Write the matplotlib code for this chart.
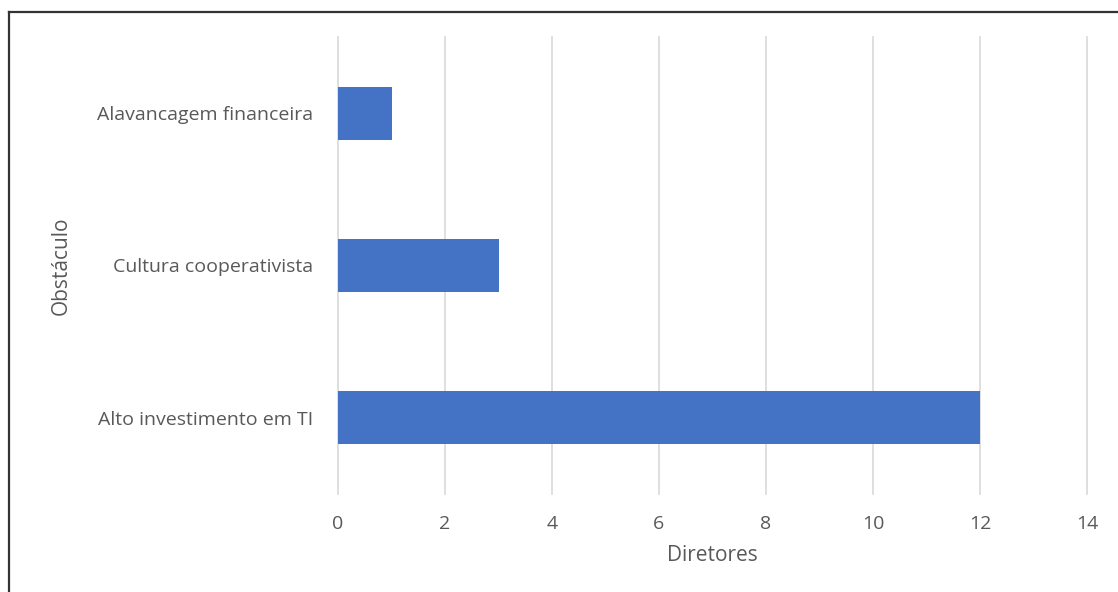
import matplotlib
matplotlib.use("Agg")
import matplotlib.pyplot as plt
from matplotlib.lines import Line2D

categories = ["Alto investimento em TI", "Cultura cooperativista", "Alavancagem financeira"]
values = [12, 3, 1]
xticks = [0, 2, 4, 6, 8, 10, 12, 14]

plt.rcParams['font.family'] = ['Open Sans', 'DejaVu Sans']
gray = "#595959"

W, H = 1118, 592
fig = plt.figure(figsize=(W/100, H/100), dpi=100)
ax = fig.add_axes([338/W, 1-494/H, (1087-338)/W, (494-37)/H])

ax.barh(range(len(categories)), values, height=0.35, color="#4472C4", zorder=3)
ax.set_ylim(-0.5, len(categories)-0.5)
ax.set_xlim(0, 14)
ax.set_xticks(xticks)
ax.set_yticks(range(len(categories)))
ax.set_yticklabels(categories)
ax.grid(axis='x', color="#D9D9D9", linewidth=1.2, zorder=0)
for gl in ax.get_xgridlines():
    gl.set_clip_on(False)
for s in ax.spines.values():
    s.set_visible(False)
ax.tick_params(axis='both', length=0, labelsize=14, labelcolor=gray)
ax.tick_params(axis='x', pad=15)
ax.tick_params(axis='y', pad=18)
ax.set_xlabel("Diretores", fontsize=15, color=gray, labelpad=9)
ax.set_ylabel("Obstáculo", fontsize=15, color=gray, labelpad=18)

# outer border (top and left)
fig.add_artist(Line2D([8.5/W, 8.5/W], [0, 1-11.5/H], color="#333333", linewidth=1.6, transform=fig.transFigure))
fig.add_artist(Line2D([8.5/W, 1], [1-11.5/H, 1-11.5/H], color="#333333", linewidth=1.6, transform=fig.transFigure))

fig.savefig("out.png", dpi=100, facecolor="white")
